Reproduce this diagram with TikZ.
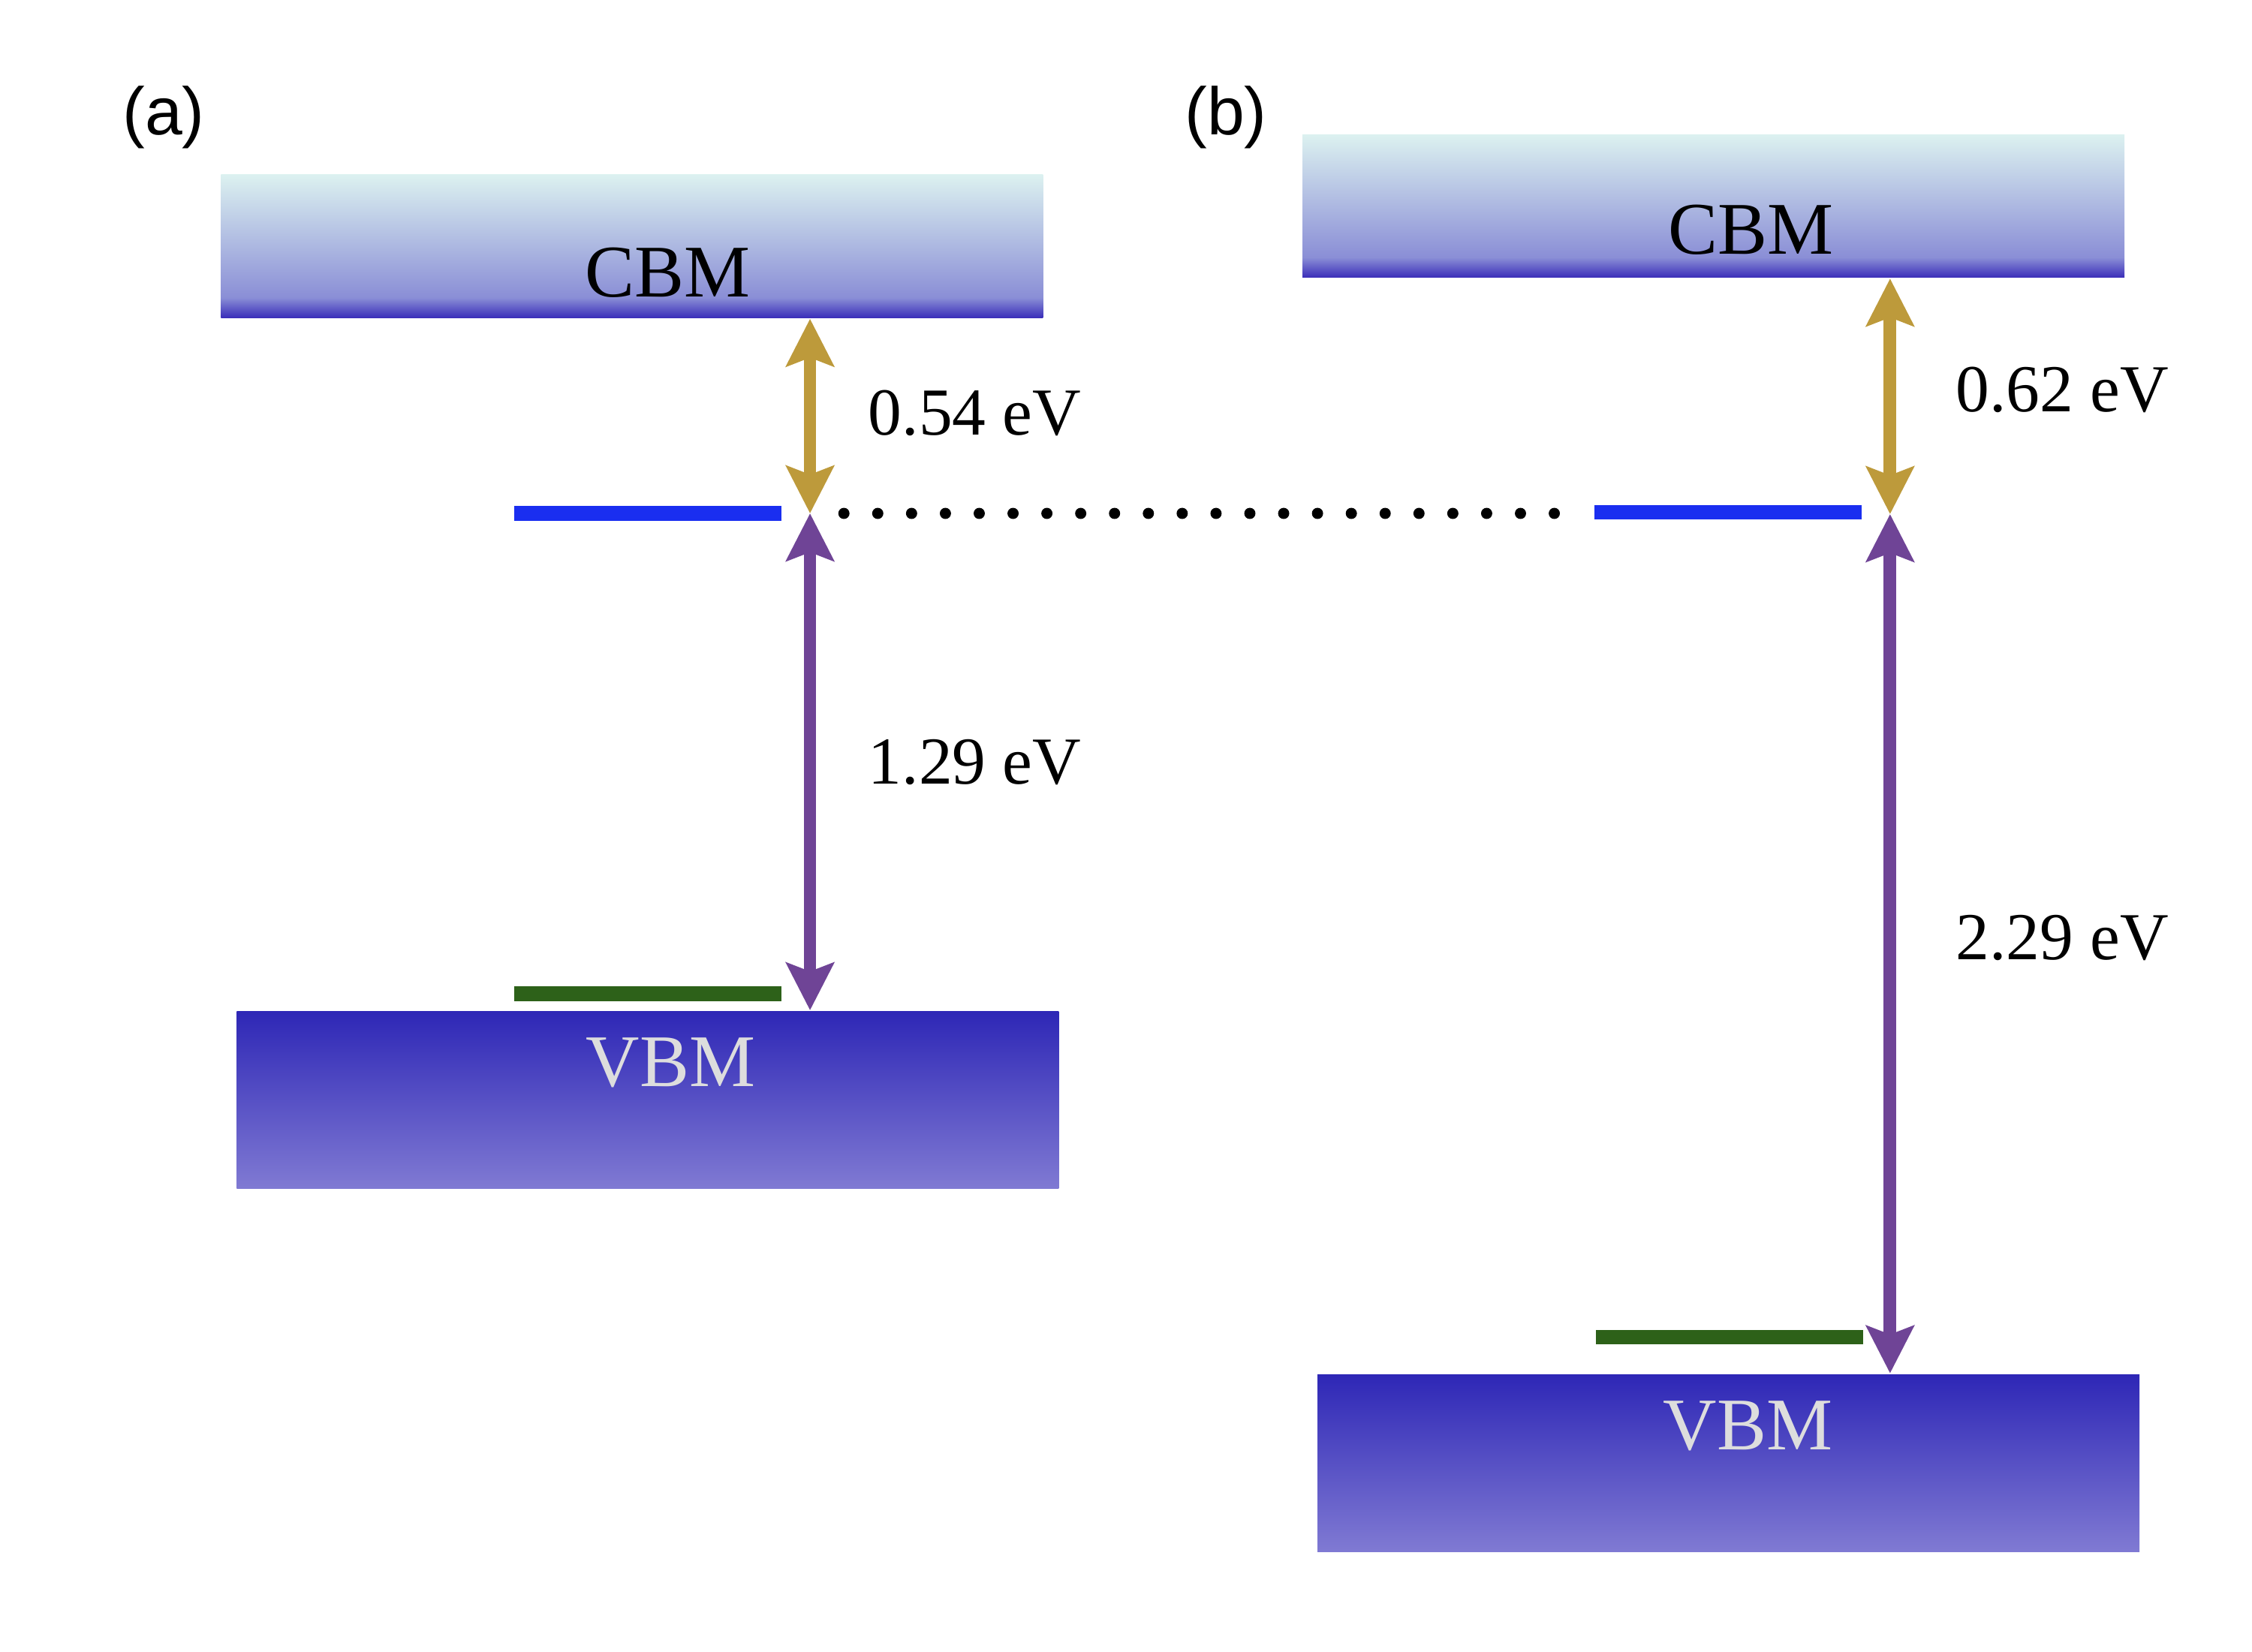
\documentclass[tikz,border=0pt]{standalone}
\usepackage{fontspec}
\setmainfont{Liberation Serif}
\newfontfamily\panelfont{Liberation Sans}
\usepackage{tikz}
\usetikzlibrary{arrows.meta,positioning,calc}

\definecolor{cbmtop}{HTML}{DCF1F0}
\definecolor{cbmmid}{HTML}{8A8ED6}
\definecolor{cbmdark}{HTML}{3A2DB9}
\definecolor{vbmtop}{HTML}{2E27B6}
\definecolor{vbmbot}{HTML}{807AD3}
\definecolor{gapgold}{HTML}{BD9A3B}
\definecolor{gappurple}{HTML}{6F4496}
\definecolor{levelblue}{HTML}{1A2EF0}
\definecolor{levelgreen}{HTML}{2D6119}
\definecolor{vbmtext}{HTML}{DDDDDD}

\pgfdeclareverticalshading{cbmshade}{100bp}{color(0bp)=(cbmdark); color(25bp)=(cbmdark); color(32bp)=(cbmmid); color(75bp)=(cbmtop); color(100bp)=(cbmtop)}

\begin{document}
\begin{tikzpicture}[x=0.01cm, y=-0.01cm,
    box/.style={rectangle, draw=none, inner sep=0pt, minimum width=5.72cm},
    cbmbox/.style={box, minimum height=0.995cm, shade, shading=cbmshade},
    vbmbox/.style={box, minimum height=1.235cm, top color=vbmtop, bottom color=vbmbot},
    deflevel/.style={rectangle, inner sep=0pt, minimum width=1.86cm, minimum height=0.1cm},
    bandlabel/.style={font=\fontsize{14.7}{17}\selectfont, inner sep=0pt, anchor=base},
    gaplabel/.style={font=\fontsize{13.3}{16}\selectfont, inner sep=0pt, anchor=base west},
    panel/.style={font=\panelfont\fontsize{13.3}{16}\selectfont, inner sep=0pt, anchor=base},
    arrow/.style={<->, line width=2.5pt, >={Stealth[length=3.3mm, width=3.3mm, inset=0.6mm]}},
    dotrow/.style={line width=0.078cm, line cap=round, dash pattern=on 0pt off 0.2354cm}]

    \useasboundingbox (0,0) rectangle (1568,1150);

    % Panel (a)
    \node[cbmbox] (cbma) at (440,171.5) {};
    \node[vbmbox] (vbma) at (451,766) {};
    \node[bandlabel] (cbmta) at (465,206.5) {CBM};
    \node[bandlabel, text=vbmtext] (vbmta) at (467,756.5) {VBM};
    \node[deflevel, fill=levelblue] (bluea) at (451,357.5) {};
    \node[deflevel, fill=levelgreen] (greena) at (451,692) {};
    \coordinate (mida) at (564,357.5);

    % Panel (b)
    \node[cbmbox] (cbmb) at (1193,143.5) {};
    \node[vbmbox] (vbmb) at (1203.5,1018.8) {};
    \node[bandlabel] (cbmtb) at (1219,176.7) {CBM};
    \node[bandlabel, text=vbmtext] (vbmtb) at (1217,1009.4) {VBM};
    \node[deflevel, fill=levelblue] (blueb) at (1203,356.5) {};
    \node[deflevel, fill=levelgreen] (greenb) at (1204,931) {};
    \coordinate (midb) at (1316,358);

    % Arrows
    \draw[arrow, gapgold] (mida) -- (mida |- cbma.south);
    \draw[arrow, gappurple] (mida) -- (mida |- vbma.north);
    \draw[arrow, gapgold] (midb) -- (midb |- cbmb.south);
    \draw[arrow, gappurple] (midb) -- (midb |- vbmb.north);

    % Dotted guide
    \coordinate (dotstart) at (587.6,357.5);
    \coordinate (dotend) at (1083,357.5);
    \draw[dotrow] (dotstart) -- (dotend);

    % Labels
    \node[gaplabel] (ea1) at (604,303) {0.54 eV};
    \node[gaplabel] (ea2) at (604,546) {1.29 eV};
    \node[gaplabel] (eb1) at (1361,286.5) {0.62 eV};
    \node[gaplabel] (eb2) at (1361,668) {2.29 eV};
    \node[panel] (pa) at (114,94) {(a)};
    \node[panel] (pb) at (853.5,93.6) {(b)};

\end{tikzpicture}
\end{document}
